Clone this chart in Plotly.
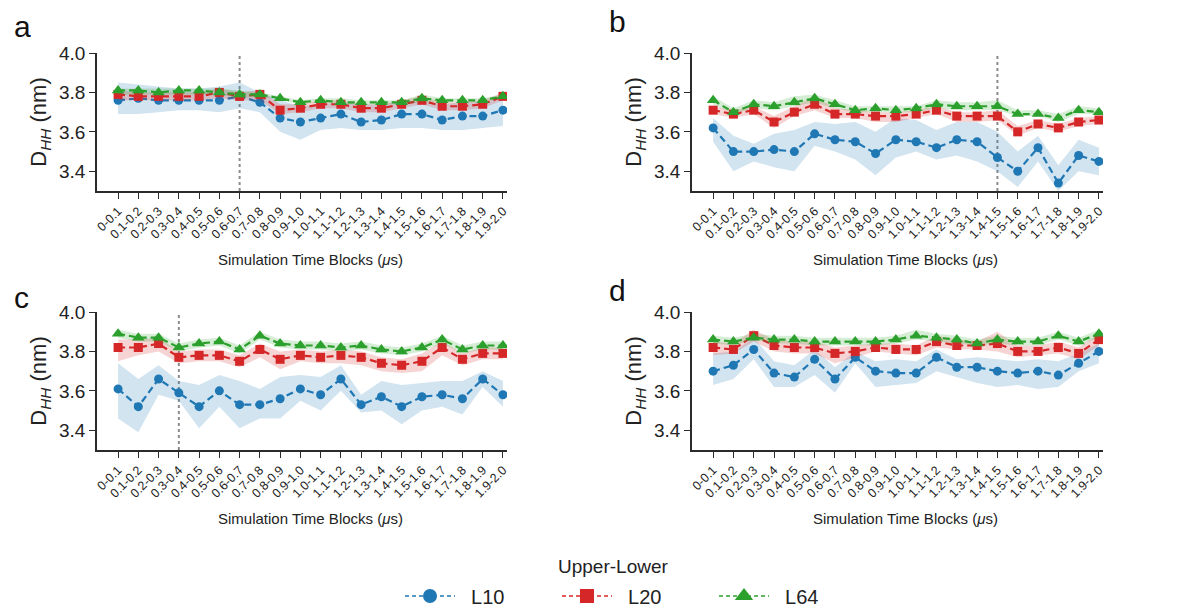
import plotly.graph_objects as go

# Time blocks (µs) on the x axis
BLOCKS = ["0-0.1", "0.1-0.2", "0.2-0.3", "0.3-0.4", "0.4-0.5", "0.5-0.6", "0.6-0.7",
          "0.7-0.8", "0.8-0.9", "0.9-1.0", "1.0-1.1", "1.1-1.2", "1.2-1.3", "1.3-1.4",
          "1.4-1.5", "1.5-1.6", "1.6-1.7", "1.7-1.8", "1.8-1.9", "1.9-2.0"]

SERIES = ["L10", "L20", "L64"]
COLORS = ["#1f77b4", "#d62728", "#2ca02c"]
BANDS = ["rgba(31,119,180,0.2)", "rgba(214,39,40,0.2)", "rgba(44,160,44,0.2)"]
SYMBOLS = ["circle", "square", "triangle-up"]

Y_TICKS = [3.4, 3.6, 3.8, 4.0]

# ---- panel a ----
A_L10 = [3.76, 3.77, 3.76, 3.76, 3.76, 3.76, 3.78, 3.75, 3.67, 3.65, 3.67, 3.69, 3.65, 3.66, 3.69, 3.69, 3.66, 3.68, 3.68, 3.71]
A_L10_LO = [3.69, 3.69, 3.70, 3.71, 3.71, 3.70, 3.72, 3.70, 3.60, 3.56, 3.61, 3.62, 3.61, 3.61, 3.62, 3.62, 3.61, 3.61, 3.62, 3.63]
A_L10_HI = [3.85, 3.84, 3.83, 3.82, 3.82, 3.83, 3.85, 3.80, 3.76, 3.73, 3.74, 3.75, 3.74, 3.74, 3.75, 3.76, 3.74, 3.75, 3.75, 3.77]
A_L20 = [3.79, 3.78, 3.78, 3.78, 3.78, 3.80, 3.78, 3.79, 3.71, 3.72, 3.74, 3.74, 3.72, 3.72, 3.74, 3.76, 3.73, 3.73, 3.74, 3.78]
A_L20_LO = [3.76, 3.76, 3.76, 3.76, 3.76, 3.77, 3.76, 3.76, 3.69, 3.70, 3.72, 3.72, 3.70, 3.70, 3.72, 3.74, 3.71, 3.71, 3.72, 3.76]
A_L20_HI = [3.81, 3.80, 3.80, 3.80, 3.80, 3.82, 3.80, 3.81, 3.74, 3.74, 3.76, 3.76, 3.74, 3.74, 3.76, 3.78, 3.75, 3.75, 3.76, 3.80]
A_L64 = [3.81, 3.81, 3.80, 3.81, 3.81, 3.80, 3.79, 3.79, 3.77, 3.75, 3.76, 3.75, 3.75, 3.75, 3.75, 3.77, 3.76, 3.76, 3.76, 3.78]
A_L64_LO = [3.79, 3.79, 3.79, 3.79, 3.79, 3.79, 3.77, 3.78, 3.76, 3.74, 3.75, 3.74, 3.74, 3.74, 3.74, 3.75, 3.75, 3.75, 3.75, 3.77]
A_L64_HI = [3.82, 3.82, 3.82, 3.82, 3.82, 3.82, 3.81, 3.80, 3.78, 3.76, 3.77, 3.77, 3.76, 3.76, 3.76, 3.79, 3.77, 3.77, 3.77, 3.79]

# ---- panel b ----
B_L10 = [3.62, 3.50, 3.50, 3.51, 3.50, 3.59, 3.56, 3.55, 3.49, 3.56, 3.55, 3.52, 3.56, 3.55, 3.47, 3.40, 3.52, 3.34, 3.48, 3.45]
B_L10_LO = [3.55, 3.40, 3.45, 3.42, 3.40, 3.53, 3.50, 3.46, 3.38, 3.47, 3.50, 3.46, 3.48, 3.45, 3.40, 3.32, 3.45, 3.30, 3.40, 3.38]
B_L10_HI = [3.67, 3.58, 3.54, 3.59, 3.61, 3.65, 3.64, 3.65, 3.60, 3.67, 3.66, 3.61, 3.65, 3.65, 3.60, 3.50, 3.58, 3.43, 3.56, 3.52]
B_L20 = [3.71, 3.69, 3.71, 3.65, 3.70, 3.74, 3.69, 3.69, 3.68, 3.68, 3.69, 3.71, 3.68, 3.68, 3.68, 3.60, 3.64, 3.62, 3.65, 3.66]
B_L20_LO = [3.69, 3.67, 3.69, 3.62, 3.68, 3.71, 3.67, 3.67, 3.65, 3.65, 3.67, 3.69, 3.65, 3.65, 3.66, 3.58, 3.62, 3.60, 3.63, 3.64]
B_L20_HI = [3.73, 3.71, 3.73, 3.68, 3.73, 3.78, 3.72, 3.71, 3.70, 3.70, 3.71, 3.73, 3.70, 3.70, 3.71, 3.63, 3.66, 3.64, 3.67, 3.68]
B_L64 = [3.76, 3.70, 3.74, 3.73, 3.75, 3.77, 3.74, 3.71, 3.72, 3.71, 3.72, 3.74, 3.73, 3.73, 3.73, 3.69, 3.69, 3.67, 3.71, 3.70]
B_L64_LO = [3.74, 3.69, 3.72, 3.71, 3.73, 3.75, 3.72, 3.70, 3.70, 3.70, 3.70, 3.72, 3.71, 3.71, 3.71, 3.68, 3.68, 3.65, 3.69, 3.69]
B_L64_HI = [3.78, 3.72, 3.76, 3.75, 3.78, 3.79, 3.76, 3.73, 3.73, 3.73, 3.73, 3.76, 3.75, 3.75, 3.76, 3.71, 3.71, 3.69, 3.73, 3.72]

# ---- panel c ----
C_L10 = [3.61, 3.52, 3.66, 3.59, 3.52, 3.60, 3.53, 3.53, 3.56, 3.61, 3.58, 3.66, 3.53, 3.57, 3.52, 3.57, 3.58, 3.56, 3.66, 3.58]
C_L10_LO = [3.46, 3.39, 3.58, 3.55, 3.41, 3.52, 3.41, 3.46, 3.46, 3.55, 3.50, 3.60, 3.49, 3.50, 3.43, 3.50, 3.52, 3.48, 3.62, 3.52]
C_L10_HI = [3.74, 3.66, 3.73, 3.65, 3.63, 3.68, 3.65, 3.61, 3.67, 3.68, 3.67, 3.73, 3.58, 3.65, 3.63, 3.64, 3.65, 3.65, 3.70, 3.65]
C_L20 = [3.82, 3.82, 3.84, 3.77, 3.78, 3.78, 3.75, 3.81, 3.76, 3.78, 3.77, 3.78, 3.77, 3.74, 3.73, 3.75, 3.82, 3.76, 3.79, 3.79]
C_L20_LO = [3.75, 3.78, 3.80, 3.74, 3.75, 3.75, 3.72, 3.77, 3.71, 3.75, 3.74, 3.74, 3.73, 3.70, 3.69, 3.70, 3.78, 3.73, 3.76, 3.76]
C_L20_HI = [3.86, 3.86, 3.87, 3.80, 3.81, 3.81, 3.78, 3.84, 3.80, 3.81, 3.80, 3.81, 3.80, 3.77, 3.76, 3.79, 3.85, 3.79, 3.82, 3.82]
C_L64 = [3.89, 3.87, 3.87, 3.82, 3.84, 3.85, 3.81, 3.88, 3.84, 3.83, 3.83, 3.82, 3.83, 3.81, 3.80, 3.82, 3.86, 3.81, 3.83, 3.83]
C_L64_LO = [3.87, 3.85, 3.85, 3.80, 3.82, 3.83, 3.79, 3.86, 3.82, 3.81, 3.81, 3.80, 3.81, 3.79, 3.78, 3.80, 3.84, 3.79, 3.81, 3.81]
C_L64_HI = [3.91, 3.89, 3.89, 3.84, 3.86, 3.87, 3.83, 3.90, 3.86, 3.85, 3.85, 3.84, 3.85, 3.83, 3.82, 3.84, 3.88, 3.83, 3.85, 3.85]

# ---- panel d ----
D_L10 = [3.70, 3.73, 3.81, 3.69, 3.67, 3.76, 3.66, 3.77, 3.70, 3.69, 3.69, 3.77, 3.72, 3.72, 3.70, 3.69, 3.70, 3.68, 3.74, 3.80]
D_L10_LO = [3.63, 3.66, 3.76, 3.62, 3.62, 3.68, 3.59, 3.74, 3.62, 3.63, 3.64, 3.70, 3.67, 3.64, 3.62, 3.63, 3.61, 3.62, 3.70, 3.74]
D_L10_HI = [3.79, 3.80, 3.87, 3.75, 3.73, 3.81, 3.72, 3.80, 3.75, 3.76, 3.75, 3.81, 3.76, 3.77, 3.76, 3.75, 3.76, 3.75, 3.79, 3.84]
D_L20 = [3.82, 3.81, 3.88, 3.83, 3.82, 3.82, 3.79, 3.80, 3.82, 3.81, 3.81, 3.85, 3.83, 3.83, 3.84, 3.80, 3.80, 3.82, 3.79, 3.86]
D_L20_LO = [3.78, 3.79, 3.85, 3.80, 3.79, 3.79, 3.74, 3.77, 3.80, 3.79, 3.78, 3.82, 3.81, 3.81, 3.80, 3.77, 3.78, 3.79, 3.76, 3.83]
D_L20_HI = [3.85, 3.84, 3.91, 3.86, 3.85, 3.85, 3.82, 3.83, 3.84, 3.84, 3.83, 3.88, 3.86, 3.85, 3.90, 3.83, 3.83, 3.85, 3.82, 3.89]
D_L64 = [3.86, 3.85, 3.87, 3.86, 3.86, 3.85, 3.85, 3.85, 3.85, 3.86, 3.88, 3.87, 3.86, 3.84, 3.86, 3.85, 3.85, 3.88, 3.85, 3.89]
D_L64_LO = [3.84, 3.83, 3.86, 3.84, 3.84, 3.83, 3.83, 3.83, 3.83, 3.84, 3.86, 3.85, 3.84, 3.83, 3.84, 3.83, 3.83, 3.86, 3.83, 3.87]
D_L64_HI = [3.88, 3.87, 3.89, 3.88, 3.88, 3.87, 3.87, 3.87, 3.87, 3.88, 3.91, 3.89, 3.88, 3.86, 3.88, 3.87, 3.87, 3.90, 3.87, 3.91]

# Block marked with a dotted vertical line in each panel (None = no line)
MARKED_BLOCK = ["0.6-0.7", "1.4-1.5", "0.3-0.4", None]
PANEL_LETTERS = ["a", "b", "c", "d"]
X_TITLE = "Simulation Time Blocks (<i>μ</i>s)"
Y_TITLE = "D<sub><i>HH</i></sub> (nm)"
LEGEND_TITLE = "Upper-Lower"

PANELS = [
    [(A_L10, A_L10_LO, A_L10_HI), (A_L20, A_L20_LO, A_L20_HI), (A_L64, A_L64_LO, A_L64_HI)],
    [(B_L10, B_L10_LO, B_L10_HI), (B_L20, B_L20_LO, B_L20_HI), (B_L64, B_L64_LO, B_L64_HI)],
    [(C_L10, C_L10_LO, C_L10_HI), (C_L20, C_L20_LO, C_L20_HI), (C_L64, C_L64_LO, C_L64_HI)],
    [(D_L10, D_L10_LO, D_L10_HI), (D_L20, D_L20_LO, D_L20_HI), (D_L64, D_L64_LO, D_L64_HI)],
]

W, H = 1195, 610
FONT = "Liberation Sans, Arial, Helvetica, sans-serif"
AXIS_COLOR = "#2b2b2b"

# plot-area placement (pixels: left, right, top, bottom)
BOXES = [(97, 507, 53, 191), (692, 1103, 53, 191), (97, 507, 312, 450), (692, 1103, 312, 450)]
LETTER_LIFT = [27, 31, 14, 22]
X_TITLE_DROP = 68

fig = go.Figure()
layout = {}
shapes = []
annotations = []

for p, (series_data, marked, letter, box, lift) in enumerate(
        zip(PANELS, MARKED_BLOCK, PANEL_LETTERS, BOXES, LETTER_LIFT)):
    sfx = "" if p == 0 else str(p + 1)
    xa, ya = "x" + sfx, "y" + sfx
    for k, (mean, lo, hi) in enumerate(series_data):
        fig.add_trace(go.Scatter(x=BLOCKS, y=lo, xaxis=xa, yaxis=ya, mode="lines",
                                 line=dict(width=0), showlegend=False, hoverinfo="skip"))
        fig.add_trace(go.Scatter(x=BLOCKS, y=hi, xaxis=xa, yaxis=ya, mode="lines",
                                 line=dict(width=0), fill="tonexty", fillcolor=BANDS[k],
                                 showlegend=False, hoverinfo="skip"))
        fig.add_trace(go.Scatter(
            x=BLOCKS, y=mean, xaxis=xa, yaxis=ya, mode="lines+markers", name=SERIES[k],
            legendgroup=SERIES[k], showlegend=False,
            line=dict(color=COLORS[k], width=2.2, dash="7px,4px"),
            marker=dict(color=COLORS[k], symbol=SYMBOLS[k],
                        size=11 if SYMBOLS[k] == "triangle-up" else 9,
                        line=dict(width=0)),
        ))

    l, r, t, b = box
    layout["xaxis" + sfx] = dict(
        domain=[l / W, r / W], anchor=ya, type="category", range=[-1.04, 19.2],
        showline=True, linecolor=AXIS_COLOR, linewidth=1.6, ticks="outside",
        ticklen=6, tickwidth=1.4, tickcolor=AXIS_COLOR, tickangle=-45,
        tickfont=dict(size=12.5, color="#222"), showgrid=False, zeroline=False,
        automargin=False,
    )
    layout["yaxis" + sfx] = dict(
        domain=[1 - b / H, 1 - t / H], anchor=xa, range=[3.3, 4.0],
        tickvals=Y_TICKS, tickformat=".1f",
        showline=True, linecolor=AXIS_COLOR, linewidth=1.6, ticks="outside",
        ticklen=6, tickwidth=1.4, tickcolor=AXIS_COLOR,
        tickfont=dict(size=19, color="#222"), showgrid=False, zeroline=False,
        automargin=False,
        title=dict(text=Y_TITLE, font=dict(size=22, color="#222"), standoff=6),
    )
    if marked is not None:
        shapes.append(dict(type="line", xref=xa, yref=ya + " domain", x0=marked, x1=marked,
                           y0=0, y1=1, line=dict(color="#8c8c8c", width=2, dash="dot"),
                           layer="below"))
    # x-axis title, placed under the rotated block labels
    annotations.append(dict(text=X_TITLE, xref="paper", yref="paper",
                            x=((l + r) / 2 + 8) / W, y=1 - (b + X_TITLE_DROP) / H,
                            xanchor="center", yanchor="middle", showarrow=False,
                            font=dict(size=15, color="#222")))
    annotations.append(dict(text=letter, xref="paper", yref="paper",
                            x=(l - 85) / W, y=1 - (t - lift) / H, xanchor="left",
                            yanchor="middle", showarrow=False,
                            font=dict(size=30, color="#111")))

# legend heading
annotations.append(dict(text=LEGEND_TITLE, xref="paper", yref="paper", x=613 / W,
                        y=1 - 566 / H, xanchor="center", yanchor="middle", showarrow=False,
                        font=dict(size=19, color="#222")))

# legend-only entries: thin dashed sample line with a large marker
for k, name in enumerate(SERIES):
    fig.add_trace(go.Scatter(
        x=[None], y=[None], mode="lines+markers", name="\u00a0\u00a0" + name,
        legendgroup=name, showlegend=True,
        line=dict(color=COLORS[k], width=1.3, dash="4px,3px"),
        marker=dict(color=COLORS[k], symbol=SYMBOLS[k],
                    size=16 if SYMBOLS[k] == "triangle-up" else 14, line=dict(width=0)),
    ))

fig.update_layout(
    **layout,
    width=W, height=H, margin=dict(l=0, r=0, t=0, b=0, autoexpand=False),
    paper_bgcolor="white", plot_bgcolor="white",
    font=dict(family=FONT, color="#222"),
    shapes=shapes, annotations=annotations,
    legend=dict(orientation="h", x=400 / W, xanchor="left", y=1 - 596 / H, yanchor="middle",
                font=dict(size=20), entrywidth=92, entrywidthmode="pixels",
                itemwidth=50, bgcolor="rgba(0,0,0,0)"),
)

fig.write_html("out.html")
